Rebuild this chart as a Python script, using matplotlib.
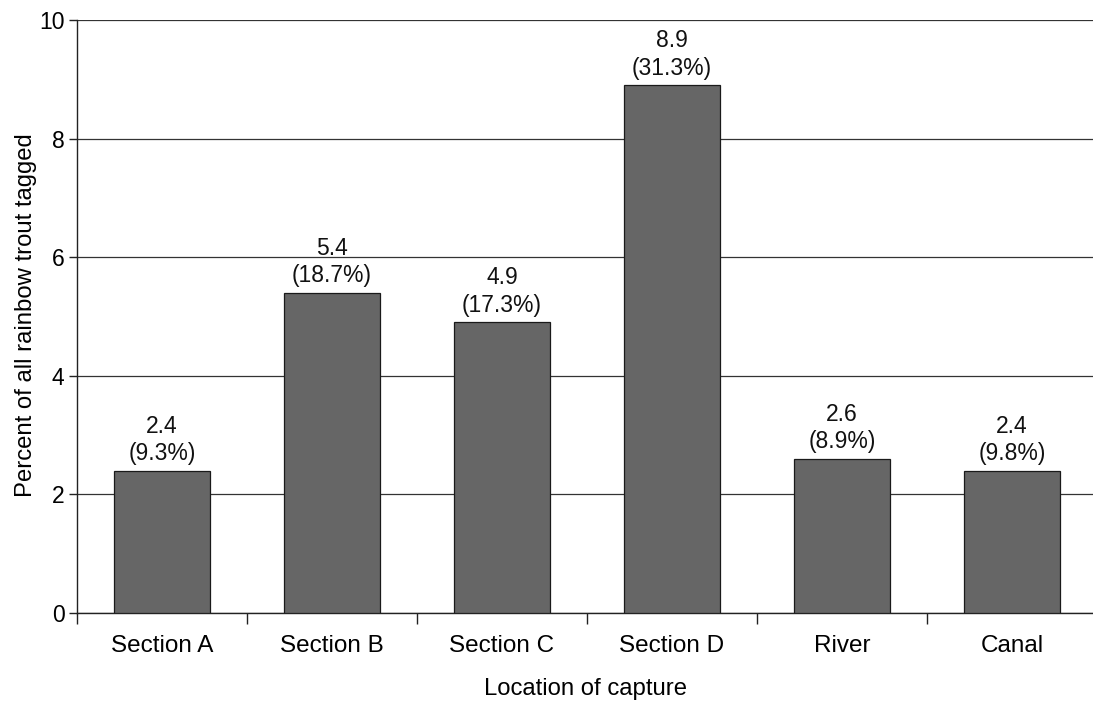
import matplotlib
matplotlib.use("Agg")
import matplotlib.pyplot as plt

# Tagged rainbow trout by capture location
locations = ["Section A", "Section B", "Section C", "Section D", "River", "Canal"]
percent_tagged = [2.4, 5.4, 4.9, 8.9, 2.6, 2.4]
share_of_total = [9.3, 18.7, 17.3, 31.3, 8.9, 9.8]
y_ticks = [0, 2, 4, 6, 8, 10]

plt.rcParams["font.family"] = ["Liberation Sans", "DejaVu Sans"]

fig = plt.figure(figsize=(10.93, 7.06), dpi=100)
ax = fig.add_axes([77 / 1093, 93 / 706, 1020 / 1093, 593 / 706])

x = list(range(len(locations)))
bars = ax.bar(x, percent_tagged, width=0.56, color="#666666",
              edgecolor="#1a1a1a", linewidth=0.9, zorder=3)

for xi, v, s in zip(x, percent_tagged, share_of_total):
    ax.annotate(f"{v}\n({s}%)", xy=(xi, v), xytext=(0, 4),
                textcoords="offset points", ha="center", va="bottom",
                fontsize=16.5, linespacing=1.25, color="#111111")

ax.set_xlim(-0.5, len(locations) - 0.5)
ax.set_ylim(0, 10)
ax.set_yticks(y_ticks)
ax.yaxis.grid(True, color="#333333", linewidth=0.9, zorder=0)
ax.set_axisbelow(True)

# category boundary ticks on the x axis, labels centred under bars
ax.set_xticks([i + 0.5 for i in range(-1, len(locations))])
ax.set_xticklabels([])
ax.set_xticks(x, minor=True)
ax.set_xticklabels(locations, minor=True, fontsize=17.5)
ax.tick_params(axis="x", which="major", direction="out", length=8, width=1, color="#222222")
ax.tick_params(axis="x", which="minor", length=0, pad=16)
ax.tick_params(axis="y", direction="out", length=6, width=1, labelsize=16.5, pad=3,
               color="#222222")

for side in ("top", "right"):
    ax.spines[side].set_visible(False)
ax.spines["left"].set_color("#222222")
ax.spines["bottom"].set_color("#222222")
ax.spines["left"].set_linewidth(1.0)
ax.spines["bottom"].set_linewidth(1.0)

ax.set_ylabel("Percent of all rainbow trout tagged", fontsize=17.2)
ax.yaxis.set_label_coords((37 - 77) / 1020, (613 - 315) / 593)
ax.set_xlabel("Location of capture", fontsize=17.2)
ax.xaxis.set_label_coords((585 - 77) / 1020, -(678 - 613) / 593)

fig.savefig("out.png", dpi=100, facecolor="white")
